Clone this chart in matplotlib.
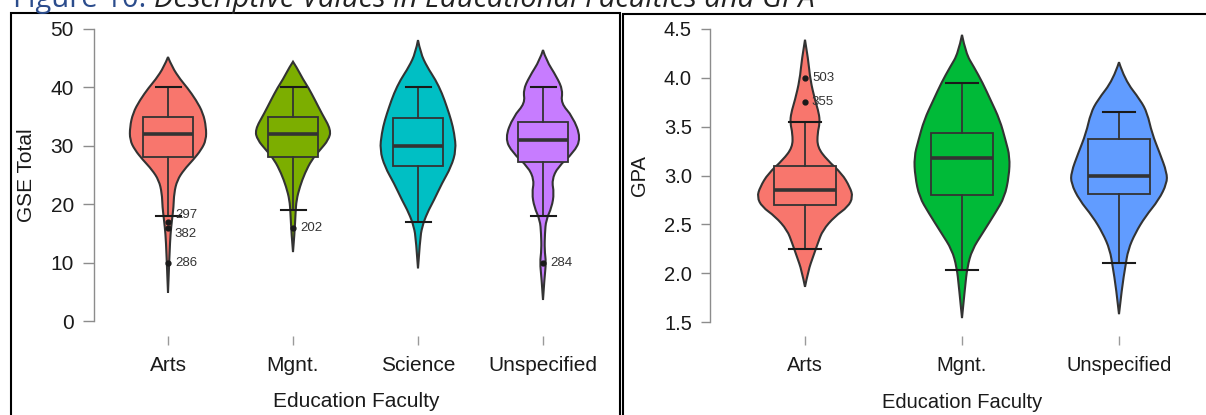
import numpy as np
import matplotlib
matplotlib.use("Agg")
import matplotlib.pyplot as plt
from matplotlib.path import Path
from matplotlib.patches import PathPatch, Rectangle

plt.rcParams['font.family'] = ['Liberation Sans', 'DejaVu Sans']

W, H = 1206, 415

# ---- GSE Total by faculty ----
gse_groups = ['Arts', 'Mgnt.', 'Science', 'Unspecified']
gse_colors = ['#F8766D', '#7CAE00', '#00BFC4', '#C77CFF']

# violin outline: score levels (top -> bottom) and relative density at each level
gse_arts_lv = [45.2, 43.5, 41.3, 40.0, 37.8, 35.6, 33.2, 31.0, 29.3, 27.6, 25.9, 24.1, 21.9, 19.5, 17.3, 15.0, 11.6, 4.8]
gse_arts_d = [0, .105, .33, .5, .74, .92, 1.0, 1.0, .87, .66, .42, .24, .16, .145, .105, .066, .04, 0]
gse_mgnt_lv = [44.4, 43.5, 41.3, 40.0, 37.8, 35.6, 32.7, 31.0, 29.3, 27.6, 25.3, 23.0, 20.7, 18.5, 15.0, 11.8]
gse_mgnt_d = [0, .09, .27, .4, .58, .75, 1.0, .93, .71, .49, .31, .18, .09, .067, .04, 0]
gse_sci_lv = [48.1, 45.9, 43.5, 41.3, 39.0, 36.6, 34.4, 32.2, 29.3, 26.4, 23.6, 20.7, 18.5, 16.1, 13.9, 9.0]
gse_sci_d = [0, .066, .24, .46, .63, .76, .87, .95, 1.0, .87, .63, .42, .24, .105, .053, 0]
gse_uns_lv = [46.4, 44.7, 41.8, 39.5, 37.3, 35.0, 31.3, 28.8, 26.4, 24.1, 21.9, 19.5, 17.3, 15.0, 12.2, 10.0, 7.5, 3.6]
gse_uns_d = [0, .08, .36, .52, .47, .78, 1.0, .8, .39, .23, .29, .23, .08, .05, .04, .08, .04, 0]

# box stats: lower whisker, Q1, median, Q3, upper whisker
gse_lo = [18, 19, 17, 18]
gse_q1 = [28, 28, 26.6, 27.3]
gse_med = [32, 32, 30, 31]
gse_q3 = [35, 35, 34.7, 34]
gse_hi = [40, 40, 40, 40]

# outliers: (group index, value, case id, label height)
gse_out_grp = [0, 0, 0, 1, 3]
gse_out_val = [17, 16, 10, 16, 10]
gse_out_id = ['297', '382', '286', '202', '284']
gse_out_lab = [18.1, 14.9, 10, 16, 10]

# ---- GPA by faculty ----
gpa_groups = ['Arts', 'Mgnt.', 'Unspecified']
gpa_colors = ['#F8766D', '#00BA38', '#619CFF']

gpa_arts_lv = [4.39, 4.18, 3.98, 3.77, 3.64, 3.54, 3.43, 3.29, 3.16, 3.02, 2.88, 2.78, 2.68, 2.58, 2.44, 2.31, 2.17, 2.03, 1.86]
gpa_arts_d = [0, .07, .11, .21, .29, .31, .26, .26, .46, .77, .94, 1.0, .9, .62, .37, .27, .17, .07, 0]
gpa_mgnt_lv = [4.44, 4.25, 4.11, 3.95, 3.77, 3.57, 3.36, 3.19, 2.99, 2.78, 2.62, 2.41, 2.24, 2.06, 1.86, 1.54]
gpa_mgnt_d = [0, .08, .25, .43, .6, .79, .91, 1.0, .98, .89, .7, .43, .21, .11, .064, 0]
gpa_uns_lv = [4.16, 3.98, 3.77, 3.64, 3.43, 3.23, 3.03, 2.92, 2.75, 2.58, 2.41, 2.24, 2.06, 1.86, 1.58]
gpa_uns_d = [0, .12, .45, .59, .69, .85, 1.0, 1.0, .83, .55, .34, .19, .13, .064, 0]

gpa_lo = [2.25, 2.03, 2.10]
gpa_q1 = [2.70, 2.80, 2.81]
gpa_med = [2.85, 3.18, 3.00]
gpa_q3 = [3.10, 3.44, 3.37]
gpa_hi = [3.55, 3.95, 3.65]

gpa_out_grp = [0, 0]
gpa_out_val = [4.0, 3.75]
gpa_out_id = ['503', '355']
gpa_out_lab = [4.0, 3.75]

EDGE = '#333333'


def smooth_side(pts):
    # quadratic bezier through midpoints, keeping both end points fixed
    verts = [pts[0]]
    codes = [Path.LINETO]
    for i in range(1, len(pts) - 1):
        mid = ((pts[i][0] + pts[i + 1][0]) / 2, (pts[i][1] + pts[i + 1][1]) / 2)
        if i == len(pts) - 2:
            mid = pts[-1]
        verts += [pts[i], mid]
        codes += [Path.CURVE3, Path.CURVE3]
    return verts, codes


def violin(ax, x, levels, dens, color, halfw=0.305):
    right = [(x + halfw * d, y) for y, d in zip(levels, dens)]
    left = [(x - halfw * d, y) for y, d in zip(levels, dens)][::-1]
    v1, c1 = smooth_side(right)
    v2, c2 = smooth_side(left)
    c1[0] = Path.MOVETO
    verts = v1 + v2[1:] + [v1[0]]
    codes = c1 + c2[1:] + [Path.CLOSEPOLY]
    ax.add_patch(PathPatch(Path(verts, codes), facecolor=color, edgecolor=EDGE, lw=1.5, zorder=2))


def boxplot(ax, x, lo, q1, med, q3, hi, color):
    ax.add_patch(Rectangle((x - 0.2, q1), 0.4, q3 - q1, facecolor=color, edgecolor=EDGE, lw=1.3, zorder=3))
    ax.plot([x - 0.2, x + 0.2], [med, med], color=EDGE, lw=2.6, zorder=4, solid_capstyle='butt')
    ax.plot([x, x], [q3, hi], color=EDGE, lw=1.3, zorder=3)
    ax.plot([x, x], [lo, q1], color=EDGE, lw=1.3, zorder=3)
    for v in (lo, hi):
        ax.plot([x - 0.1, x + 0.1], [v, v], color='#1a1a1a', lw=1.5, zorder=3)


def style_axis(ax, ylo, yhi, ticks, fmt, names, fs, ylen):
    for s in ('top', 'right', 'bottom'):
        ax.spines[s].set_visible(False)
    ax.spines['left'].set_bounds(ylo, yhi)
    ax.spines['left'].set_color('#8c8c8c')
    ax.spines['left'].set_linewidth(1.0)
    ax.set_yticks(ticks)
    ax.set_yticklabels([fmt.format(t) for t in ticks])
    ax.set_xticks(range(len(names)))
    ax.set_xticklabels(names)
    ax.tick_params(axis='y', length=ylen, width=1.0, color='#8c8c8c', pad=6.5, labelsize=fs, labelcolor='#1a1a1a')
    ax.tick_params(axis='x', length=6.5, width=1.0, color='#9a9a9a', pad=8, labelsize=fs, labelcolor='#1a1a1a')
    ax.set_facecolor('none')


def px_axes(fig, l, r, t, b):
    return fig.add_axes([l / W, 1 - b / H, (r - l) / W, (b - t) / H])


fig = plt.figure(figsize=(W / 100, H / 100), dpi=100)

# panel frames
fig.patches.append(Rectangle((11 / W, -0.1), (620 - 11) / W, 1.1 - 13 / H, transform=fig.transFigure,
                             fill=False, edgecolor='black', lw=1.5))
fig.patches.append(Rectangle((623 / W, -0.1), 0.5, 1.1 - 14 / H, transform=fig.transFigure,
                             fill=False, edgecolor='black', lw=1.5))

# title, mostly cut off at the top edge
t1 = fig.text(13 / W, 1 - 7 / H, 'Figure 10: ', color='#2B4C8C', fontsize=21,
              family='Open Sans', va='baseline')
fig.canvas.draw()
bb = t1.get_window_extent()
fig.text(bb.x1 / W, 1 - 7 / H, 'Descriptive Values in Educational Faculties and GPA', color='#222222',
         fontsize=21, family='Open Sans', style='italic', va='baseline')

# left: GSE Total
ax1 = px_axes(fig, 94, 615, 20, 336)
ax1.set_xlim((94 - 168) / 125, (615 - 168) / 125)
ax1.set_ylim(-(336 - 321) / 5.84, 50 + (29 - 20) / 5.84)
gse_lv = [gse_arts_lv, gse_mgnt_lv, gse_sci_lv, gse_uns_lv]
gse_d = [gse_arts_d, gse_mgnt_d, gse_sci_d, gse_uns_d]
for i in range(len(gse_groups)):
    violin(ax1, i, gse_lv[i], gse_d[i], gse_colors[i])
    boxplot(ax1, i, gse_lo[i], gse_q1[i], gse_med[i], gse_q3[i], gse_hi[i], gse_colors[i])
for g, v, cid, ly in zip(gse_out_grp, gse_out_val, gse_out_id, gse_out_lab):
    ax1.plot(g, v, 'o', color='#1a1a1a', ms=3.5, zorder=5)
    ax1.annotate(cid, (g, ly), xytext=(5, 0), textcoords='offset points', va='center', ha='left',
                 fontsize=9.5, color='#333333', zorder=6)
style_axis(ax1, 0, 50, [0, 10, 20, 30, 40, 50], '{:g}', gse_groups, 15, 8)
ax1.set_ylabel('GSE Total', fontsize=15, color='#1a1a1a')
ax1.yaxis.set_label_coords(27 / W, 1 - 175 / H, transform=fig.transFigure)
ax1.set_xlabel('Education Faculty', fontsize=15, color='#1a1a1a')
ax1.xaxis.set_label_coords(356 / W, 1 - 401 / H, transform=fig.transFigure)
ax1.xaxis.label.set_va('center')
ax1.yaxis.label.set_va('center')

# right: GPA
ax2 = px_axes(fig, 710, 1200, 20, 336)
ax2.set_xlim((710 - 805) / 157, (1200 - 805) / 157)
ax2.set_ylim(1.5 - (336 - 322) / 97.67, 4.5 + (29 - 20) / 97.67)
gpa_lv = [gpa_arts_lv, gpa_mgnt_lv, gpa_uns_lv]
gpa_d = [gpa_arts_d, gpa_mgnt_d, gpa_uns_d]
for i in range(len(gpa_groups)):
    violin(ax2, i, gpa_lv[i], gpa_d[i], gpa_colors[i])
    boxplot(ax2, i, gpa_lo[i], gpa_q1[i], gpa_med[i], gpa_q3[i], gpa_hi[i], gpa_colors[i])
for g, v, cid, ly in zip(gpa_out_grp, gpa_out_val, gpa_out_id, gpa_out_lab):
    ax2.plot(g, v, 'o', color='#1a1a1a', ms=3.5, zorder=5)
    ax2.annotate(cid, (g, ly), xytext=(5, 0), textcoords='offset points', va='center', ha='left',
                 fontsize=9.5, color='#333333', zorder=6)
style_axis(ax2, 1.5, 4.5, [1.5, 2.0, 2.5, 3.0, 3.5, 4.0, 4.5], '{:.1f}', gpa_groups, 14.5, 6.5)
ax2.set_ylabel('GPA', fontsize=14.5, color='#1a1a1a')
ax2.yaxis.set_label_coords(640 / W, 1 - 176 / H, transform=fig.transFigure)
ax2.set_xlabel('Education Faculty', fontsize=14.5, color='#1a1a1a')
ax2.xaxis.set_label_coords(962 / W, 1 - 402 / H, transform=fig.transFigure)
ax2.xaxis.label.set_va('center')
ax2.yaxis.label.set_va('center')

fig.savefig('out.png', dpi=100)
